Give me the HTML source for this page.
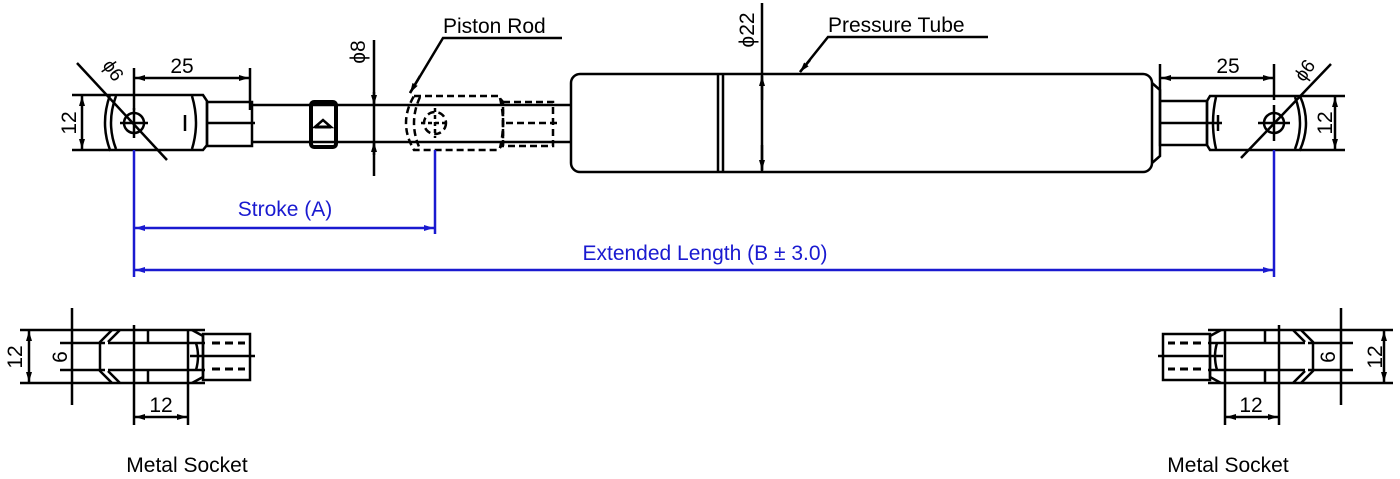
<!DOCTYPE html>
<html><head><meta charset="utf-8"><style>
html,body{margin:0;padding:0;background:#fff;}
svg{display:block;}
text{font-family:"Liberation Sans",sans-serif;}
</style></head><body>
<svg width="1400" height="479" viewBox="0 0 1400 479" xmlns="http://www.w3.org/2000/svg">
<defs>
<marker id="a" viewBox="0 0 10 6" refX="10" refY="3" markerWidth="10" markerHeight="6" orient="auto-start-reverse" markerUnits="userSpaceOnUse"><path d="M0,0L10,3L0,6z" fill="#000"/></marker>
<marker id="b" viewBox="0 0 10 6" refX="10" refY="3" markerWidth="10" markerHeight="6" orient="auto-start-reverse" markerUnits="userSpaceOnUse"><path d="M0,0L10,3L0,6z" fill="#1a1ad0"/></marker>
<g id="sock">
 <line x1="20" y1="330" x2="205" y2="330"/><line x1="20" y1="383" x2="205" y2="383"/>
 <line x1="60" y1="343" x2="105" y2="343"/><line x1="60" y1="370" x2="105" y2="370"/>
 <path d="M112,330 L100,342 L100,371 L112,383"/><path d="M120,330 L108,342 M108,371 L120,383"/>
 <line x1="108" y1="343" x2="205" y2="343"/><line x1="108" y1="370" x2="205" y2="370"/>
 <line x1="148" y1="330" x2="148" y2="343"/><line x1="148" y1="370" x2="148" y2="383"/>
 <path d="M192,330 L203,336 L203,377 L192,383"/><path d="M196,343 Q200,356 196,370"/>
 <rect x="203" y="334" width="47" height="46"/>
 <line x1="212" y1="343" x2="245" y2="343" stroke-dasharray="8,5" stroke-width="3"/>
 <line x1="212" y1="369" x2="245" y2="369" stroke-dasharray="8,5" stroke-width="3"/>
 <line x1="190" y1="356" x2="255" y2="356"/>
 <line x1="72" y1="308" x2="72" y2="405"/>
 <line x1="134" y1="325" x2="134" y2="425"/><line x1="188" y1="330" x2="188" y2="425"/>
 <line x1="29" y1="331" x2="29" y2="382" marker-start="url(#a)" marker-end="url(#a)"/>
 <line x1="135" y1="417" x2="187" y2="417" marker-start="url(#a)" marker-end="url(#a)"/>
</g>
</defs>
<g stroke="#000" stroke-width="2.5" fill="none">
 <path d="M110,95 L203,95 L207,101 L207,145 L203,150 L110,150 Q100,123 110,95"/>
 <path d="M116,96 Q106,123 116,149"/>
 <path d="M192,96 Q200,123 192,149"/>
 <circle cx="134" cy="123" r="10"/>
 <line x1="120" y1="123" x2="148" y2="123"/><line x1="134" y1="108" x2="134" y2="138"/>
 <line x1="185" y1="115" x2="185" y2="131"/>
 <line x1="77" y1="63" x2="167" y2="160"/>
 <rect x="207" y="102" width="45" height="44"/>
 <line x1="207" y1="123" x2="255" y2="123"/>
 <line x1="252" y1="105" x2="571" y2="105"/><line x1="252" y1="142" x2="571" y2="142"/>
 <rect x="311" y="102" width="25" height="45" rx="3" stroke-width="4"/>
 <path d="M315,127 L323,120 L331,127 Z"/>
 <line x1="315" y1="127" x2="331" y2="127" stroke-width="3"/>
 <g stroke-dasharray="7,4">
  <path d="M414,96 L498,96 L503,102 L503,144 L498,150 L414,150 Q398,123 414,96"/>
  <path d="M420,97 Q408,123 420,149"/>
  <circle cx="435" cy="123" r="11"/>
  <path d="M500,98 Q506,123 500,148"/>
  <rect x="503" y="102" width="50" height="44"/>
  <line x1="506" y1="123" x2="558" y2="123"/>
 </g>
 <line x1="421" y1="123" x2="449" y2="123" stroke-dasharray="4,3"/><line x1="435" y1="108" x2="435" y2="138" stroke-dasharray="4,3"/>
 <line x1="374" y1="40" x2="374" y2="176"/>
 <line x1="374" y1="92" x2="374" y2="105" marker-end="url(#a)"/>
 <line x1="374" y1="155" x2="374" y2="142" marker-end="url(#a)"/>
 <rect x="571" y="74" width="581" height="98" rx="9"/>
 <line x1="718" y1="74" x2="718" y2="172"/><line x1="723" y1="74" x2="723" y2="172"/>
 <line x1="762" y1="3" x2="762" y2="172"/>
 <line x1="762" y1="100" x2="762" y2="76" marker-end="url(#a)"/>
 <line x1="762" y1="145" x2="762" y2="170" marker-end="url(#a)"/>
 <path d="M1152,83 L1160,90 L1160,156 L1152,163"/>
 <rect x="1160" y="101" width="47" height="44"/>
 <line x1="1160" y1="123" x2="1222" y2="123"/>
 <path d="M1210,96 L1300,96 Q1312,123 1300,150 L1210,150 L1207,145 L1207,101 Z"/>
 <path d="M1295,97 Q1305,123 1295,149"/>
 <path d="M1216,97 Q1210,123 1216,149"/>
 <line x1="1218" y1="115" x2="1218" y2="131"/>
 <circle cx="1274" cy="123" r="10"/>
 <line x1="1258" y1="123" x2="1290" y2="123"/><line x1="1274" y1="105" x2="1274" y2="141"/>
 <line x1="1241" y1="158" x2="1331" y2="64"/>
 <line x1="1300" y1="96" x2="1345" y2="96"/><line x1="1300" y1="150" x2="1345" y2="150"/>
 <line x1="1335" y1="97" x2="1335" y2="149" marker-start="url(#a)" marker-end="url(#a)"/>
 <line x1="1160" y1="64" x2="1160" y2="100"/><line x1="1274" y1="64" x2="1274" y2="100"/>
 <line x1="1161" y1="78" x2="1273" y2="78" marker-start="url(#a)" marker-end="url(#a)"/>
 <line x1="72" y1="95" x2="110" y2="95"/><line x1="72" y1="150" x2="110" y2="150"/>
 <line x1="82" y1="96" x2="82" y2="149" marker-start="url(#a)" marker-end="url(#a)"/>
 <line x1="134" y1="68" x2="134" y2="110"/><line x1="250" y1="68" x2="250" y2="110"/>
 <line x1="135" y1="78" x2="249" y2="78" marker-start="url(#a)" marker-end="url(#a)"/>
 <polyline points="562,38 443,38 410,93"/>
 <line x1="420" y1="76" x2="410" y2="93" marker-end="url(#a)"/>
 <polyline points="988,37 828,37 800,72"/>
 <line x1="810" y1="60" x2="800" y2="72" marker-end="url(#a)"/>
 <use href="#sock"/>
 <use href="#sock" transform="translate(1413,0) scale(-1,1)"/>
</g>
<g stroke="#1a1ad0" stroke-width="2.5" fill="none">
 <line x1="134" y1="150" x2="134" y2="277"/>
 <line x1="435" y1="150" x2="435" y2="234"/>
 <line x1="1274" y1="150" x2="1274" y2="277"/>
 <line x1="135" y1="228" x2="434" y2="228" marker-start="url(#b)" marker-end="url(#b)"/>
 <line x1="135" y1="270" x2="1273" y2="270" marker-start="url(#b)" marker-end="url(#b)"/>
</g>
<g font-size="21" fill="#000">
 <text x="182" y="73" text-anchor="middle">25</text>
 <text x="1228" y="73" text-anchor="middle">25</text>
 <text x="443" y="33">Piston Rod</text>
 <text x="828" y="32">Pressure Tube</text>
 <text transform="translate(76,123) rotate(-90)" text-anchor="middle">12</text>
 <text transform="translate(1332,123) rotate(-90)" text-anchor="middle">12</text>
 <text transform="translate(365,52) rotate(-90)" text-anchor="middle">ϕ8</text>
 <text transform="translate(754,30) rotate(-90)" text-anchor="middle">ϕ22</text>
 <text transform="translate(108,74) rotate(55)" text-anchor="middle" font-size="19">ϕ6</text>
 <text transform="translate(1310,74) rotate(-55)" text-anchor="middle" font-size="19">ϕ6</text>
 <text transform="translate(22,357) rotate(-90)" text-anchor="middle">12</text>
 <text transform="translate(67,357) rotate(-90)" text-anchor="middle">6</text>
 <text x="161" y="412" text-anchor="middle">12</text>
 <text transform="translate(1382,357) rotate(-90)" text-anchor="middle">12</text>
 <text transform="translate(1335,357) rotate(-90)" text-anchor="middle">6</text>
 <text x="1251" y="412" text-anchor="middle">12</text>
 <text x="187" y="472" text-anchor="middle">Metal Socket</text>
 <text x="1228" y="472" text-anchor="middle">Metal Socket</text>
</g>
<g font-size="21" fill="#1a1ad0">
 <text x="285" y="216" text-anchor="middle">Stroke (A)</text>
 <text x="705" y="260" text-anchor="middle">Extended Length (B ± 3.0)</text>
</g>
</svg>
</body></html>
